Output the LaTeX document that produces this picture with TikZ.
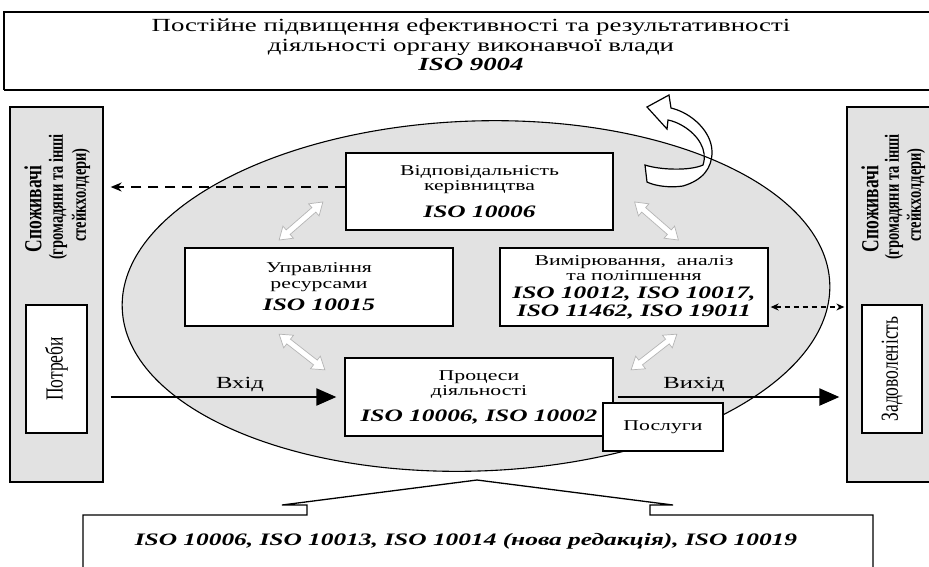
\documentclass[tikz,border=0pt]{standalone}
\usepackage{fontspec}
\usepackage{graphicx}
\setmainfont{Liberation Serif}
\newfontfamily\wf[FakeStretch=1.45]{Liberation Serif}
\usetikzlibrary{arrows.meta,calc}
\definecolor{ovalgray}{HTML}{E2E2E2}
\definecolor{arrowgray}{HTML}{B4B4B4}
\newcommand\isofont{\wf\fontsize{17.5}{18}\selectfont\bfseries\itshape}
\newcommand\vertext[1]{\scalebox{1}[1.4]{#1}}
\newcommand\bigline[1]{\vertext{\fontsize{17.5}{17}\selectfont\bfseries #1}}
\newcommand\subline[1]{\vertext{\fontsize{14.5}{15}\selectfont\bfseries #1}}

\begin{document}
\begin{tikzpicture}[x=1pt,y=-1pt,line join=miter]
\useasboundingbox (0,0) rectangle (929,566);
\tikzset{
  frame/.style={draw=black,line width=1.3pt},
  box/.style={frame,fill=white,inner sep=0pt,align=center,font=\wf\fontsize{15}{15}\selectfont},
  sidebox/.style={frame,fill=ovalgray,inner sep=0pt},
  flow/.style={line width=2.2pt,-{Triangle[length=20pt,width=17pt]}},
  lbl/.style={font=\wf\fontsize{17}{17}\selectfont,inner sep=0pt},
  sidelabel/.style={rotate=90,inner sep=0pt},
  dbl/.pic={\draw[arrowgray,fill=white,line width=0.7pt]
    (-29,0) -- (-17,-8) -- (-17,-3) -- (17,-3) -- (17,-8) -- (29,0)
    -- (17,8) -- (17,3) -- (-17,3) -- (-17,8) -- cycle;}
}

% heading frame
\draw[line width=1.1pt] (940,12) -- (4,12) -- (4,90);
\draw[line width=1.8pt] (4,90) -- (940,90);
\node[align=center,inner sep=0pt,font=\wf\fontsize{18.5}{19.5}\selectfont] (title) at (471,45)
  {Постійне підвищення ефективності та результативності\\
   діяльності органу виконавчої влади\\
   {\bfseries\itshape ISO 9004}};

% consumer columns
\node[sidebox,minimum width=93pt,minimum height=375pt] (lcons) at (56.5,294.5) {};
\node[sidebox,minimum width=93pt,minimum height=375pt] (rcons) at (893.5,294.5) {};
\node[sidelabel] (lt1) at (33,209) {\bigline{Споживачі}};
\node[sidelabel] (lt2) at (58,197) {\subline{(громадяни та інші}};
\node[sidelabel] (lt3) at (81,195) {\subline{стейкхолдери)}};
\node[sidelabel] (rt1) at (870,209) {\bigline{Споживачі}};
\node[sidelabel] (rt2) at (894,197) {\subline{(громадяни та інші}};
\node[sidelabel] (rt3) at (916,195) {\subline{стейкхолдери)}};
\node[box,minimum width=61pt,minimum height=128pt] (needs) at (56.5,369) {};
\node[sidelabel] at (needs.center) {\vertext{\fontsize{17.5}{17}\selectfont Потреби}};
\node[box,minimum width=60pt,minimum height=128pt] (sat) at (892,369) {};
\node[sidelabel] at (sat.center) {\vertext{\fontsize{17.5}{17}\selectfont Задоволеність}};

% the process oval
\fill[ovalgray,rotate around={2:(476,296)}] (476,296) ellipse [x radius=354,y radius=175];

% improvement loop arrow
\draw[line width=1.2pt,fill=white]
  (647,107) -- (669,95) -- (671,108)
  .. controls (692,113) and (712,132) .. (712,152)
  .. controls (712,168) and (703,180) .. (683,186)
  .. controls (670,188) and (655,186) .. (647,182)
  -- (645,165)
  .. controls (660,170) and (690,171) .. (703,165)
  .. controls (708,150) and (698,135) .. (683,126)
  .. controls (678,123) and (673,121) .. (668,120)
  -- (667,129) -- cycle;

\draw[line width=1.1pt,rotate around={2:(476,296)}] (476,296) ellipse [x radius=354,y radius=175];

% process blocks
\node[box,minimum width=267pt,minimum height=77pt] (resp) at (479.5,191.5)
  {Відповідальність\\керівництва\\[12pt]{\isofont ISO 10006}};
\node[box,minimum width=268pt,minimum height=78pt] (res) at (319,287)
  {Управління\\[1pt]ресурсами\\[7pt]{\isofont ISO 10015}};
\node[box,minimum width=268pt,minimum height=78pt] (meas) at (634,287)
  {Вимірювання,\ \ аналіз\\та поліпшення\\[3pt]{\isofont ISO 10012, ISO 10017,}\\[3pt]{\isofont ISO 11462, ISO 19011}};
\node[box,minimum width=268pt,minimum height=78pt] (proc) at (479,397)
  {Процеси\\діяльності\\[11pt]{\isofont ISO 10006, ISO 10002}};
\node[box,minimum width=120pt,minimum height=48pt] (serv) at (663,427) {Послуги};

% links between blocks
\pic[rotate=41] at (301,221) {dbl};
\pic[rotate=-41] at (656.5,221) {dbl};
\pic[rotate=-38] at (302,352) {dbl};
\pic[rotate=38] at (654,352) {dbl};

% input and output
\draw[flow,shorten <=7pt,shorten >=8pt] (lcons.east |- proc.west) -- (proc.west);
\draw[flow,shorten <=4pt,shorten >=7pt] (proc.east) -- (proc.east -| rcons.west);
\node[lbl] (inlbl) at (240,385) {Вхід};
\node[lbl] (outlbl) at (694,385) {Вихід};

% feedback
\draw[line width=1.5pt,dash pattern=on 10pt off 7pt,-{Stealth[length=11pt,width=9pt]},shorten >=7pt]
  ([yshift=4.5pt]resp.west) -- ([yshift=4.5pt]resp.west -| lcons.east);
\draw[line width=1.1pt,dash pattern=on 5pt off 4pt,{Stealth[length=8pt,width=7pt]}-{Stealth[length=8pt,width=7pt]},shorten >=2pt,shorten <=2pt]
  ([yshift=-20pt]meas.east) -- ([yshift=-20pt]meas.east -| rcons.west);

% supporting standards
\draw[frame,fill=white] (83,580) -- (83,515) -- (307,515) -- (307,505) -- (282,505)
  -- (477,480) -- (673,505) -- (650,505) -- (650,515) -- (873,515) -- (873,580);
\node[inner sep=0pt,font=\isofont] (std) at (466,541)
  {ISO 10006, ISO 10013, ISO 10014 (нова редакція), ISO 10019};
\end{tikzpicture}
\end{document}
